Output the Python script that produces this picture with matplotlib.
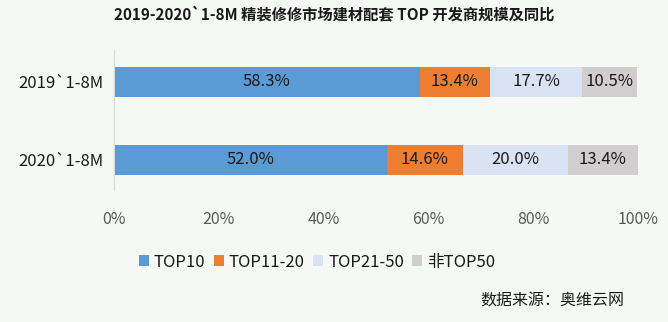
import matplotlib.pyplot as plt

plt.rcParams['font.family'] = ['Noto Sans CJK SC', 'DejaVu Sans']

# data
periods = ['2019`1-8M', '2020`1-8M']
series = ['TOP10', 'TOP11-20', 'TOP21-50', '非TOP50']
top10 = [58.3, 52.0]
top11_20 = [13.4, 14.6]
top21_50 = [17.7, 20.0]
non_top50 = [10.5, 13.4]
xticks = [0, 20, 40, 60, 80, 100]

colors = ['#5b9bd5', '#ed7d31', '#dae3f3', '#d0cece']
bg = '#f6f8f6'

fig = plt.figure(figsize=(6.68, 3.22), dpi=100, facecolor=bg)
ax = fig.add_axes([0.171, 0.41, 0.784, 0.435], facecolor=bg)

ypos = [1, 0]
left = [0, 0]
for name, vals, c in zip(series, [top10, top11_20, top21_50, non_top50], colors):
    ax.barh(ypos, vals, left=left, height=0.385, color=c, label=name)
    for y, l, v in zip(ypos, left, vals):
        ax.text(l + v / 2, y, '%.1f%%' % v, ha='center', va='center',
                fontsize=12, color='#1a1a1a')
    left = [a + b for a, b in zip(left, vals)]

ax.set_xlim(0, 100)
ax.set_ylim(-0.385, 1.41)
ax.set_yticks(ypos)
ax.set_yticklabels(periods, fontsize=12, color='#1a1a1a')
ax.set_xticks(xticks)
ax.set_xticklabels(['%d%%' % t for t in xticks], fontsize=11.5, color='#595959')
ax.tick_params(length=0)
ax.tick_params(axis='x', pad=15)
ax.tick_params(axis='y', pad=8)
for s in ['top', 'right', 'bottom']:
    ax.spines[s].set_visible(False)
ax.spines['left'].set_color('#d9d9d9')

fig.text(0.5, 0.953, '2019-2020`1-8M 精装修修市场建材配套 TOP 开发商规模及同比',
         ha='center', va='center', fontsize=11, fontweight='bold', color='#1a1a1a')

ax.legend(loc='center', bbox_to_anchor=(0.475, 0.186), bbox_transform=fig.transFigure,
          ncol=4, frameon=False, fontsize=12, handlelength=0.6, handleheight=0.6,
          handletextpad=0.3, columnspacing=0.5, labelcolor='#1a1a1a')

fig.text(0.935, 0.065, '数据来源：奥维云网', ha='right', va='center',
         fontsize=11.5, color='#1a1a1a')

fig.savefig('out.png', dpi=100, facecolor=bg)
